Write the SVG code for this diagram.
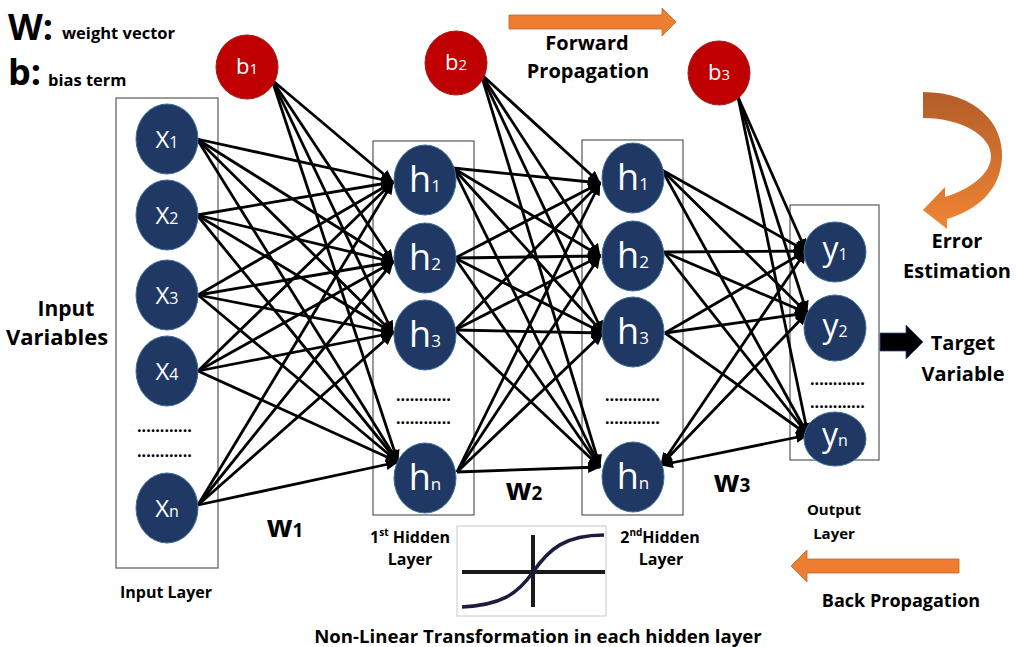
<svg xmlns="http://www.w3.org/2000/svg" width="1016" height="647" viewBox="0 0 1016 647">
<style>
.t{font-family:"Open Sans","Liberation Sans",sans-serif;font-weight:bold;fill:#000}
.nl{font-family:"Open Sans","Liberation Sans",sans-serif;fill:#fff}
.n{fill:#1f3864;stroke:#41719c;stroke-width:1}
.b{fill:#c00000;stroke:#a02020;stroke-width:1}
.box{fill:none;stroke:#595959;stroke-width:1.2}
.c line{stroke:#000;stroke-width:2.8;marker-end:url(#ah)}
.dots{font-family:"Open Sans","Liberation Sans",sans-serif;font-weight:bold;font-size:16px;fill:#000}
</style>
<defs>
<marker id="ah" markerWidth="13" markerHeight="11" refX="12" refY="5.5" orient="auto" markerUnits="userSpaceOnUse"><path d="M0,0 L13,5.5 L0,11 z" fill="#000"/></marker>
<marker id="ahs" markerWidth="13" markerHeight="11" refX="12" refY="5.5" orient="auto-start-reverse" markerUnits="userSpaceOnUse"><path d="M0,0 L13,5.5 L0,11 z" fill="#000"/></marker>
<linearGradient id="eg" x1="0" y1="0" x2="0" y2="1"><stop offset="0" stop-color="#b35d28"/><stop offset="1" stop-color="#f08535"/></linearGradient>
</defs>
<rect width="1016" height="647" fill="#fff"/>

<g id="legend">
<text class="t" x="8" y="40" font-size="36">W:</text>
<text class="t" x="62" y="39" font-size="16.5">weight vector</text>
<text class="t" x="8" y="85" font-size="36">b:</text>
<text class="t" x="48" y="86" font-size="16.5">bias term</text>
</g>

<g id="layer-boxes">
<rect class="box" x="116" y="98" width="102" height="470"/>
<rect class="box" x="373" y="141" width="101" height="374"/>
<rect class="box" x="582" y="140" width="101" height="375"/>
<rect class="box" x="790" y="205" width="89" height="255"/>
</g>

<g id="connectors" class="c">
<line x1="197" y1="139" x2="393" y2="182"/><line x1="197" y1="139" x2="393" y2="262"/><line x1="197" y1="139" x2="393" y2="333"/><line x1="197" y1="139" x2="398" y2="462"/>
<line x1="197" y1="215" x2="393" y2="182"/><line x1="197" y1="215" x2="393" y2="262"/><line x1="197" y1="215" x2="393" y2="333"/><line x1="197" y1="215" x2="398" y2="462"/>
<line x1="198" y1="295" x2="393" y2="182"/><line x1="198" y1="295" x2="393" y2="262"/><line x1="198" y1="295" x2="393" y2="333"/><line x1="198" y1="295" x2="398" y2="462"/>
<line x1="198" y1="371" x2="393" y2="182"/><line x1="198" y1="371" x2="393" y2="262"/><line x1="198" y1="371" x2="393" y2="333"/><line x1="198" y1="371" x2="398" y2="462"/>
<line x1="198" y1="505" x2="393" y2="182"/><line x1="198" y1="505" x2="393" y2="262"/><line x1="198" y1="505" x2="393" y2="333"/><line x1="198" y1="505" x2="398" y2="462"/>
<line x1="272" y1="80" x2="393" y2="182"/><line x1="272" y1="80" x2="393" y2="262"/><line x1="272" y1="80" x2="393" y2="333"/><line x1="272" y1="80" x2="398" y2="462"/>
<line x1="453" y1="168" x2="600" y2="183"/><line x1="453" y1="168" x2="600" y2="256"/><line x1="453" y1="168" x2="603" y2="333"/><line x1="453" y1="168" x2="600" y2="467"/>
<line x1="455" y1="258" x2="600" y2="183"/><line x1="455" y1="258" x2="600" y2="256"/><line x1="455" y1="258" x2="603" y2="333"/><line x1="455" y1="258" x2="600" y2="467"/>
<line x1="455" y1="330" x2="600" y2="183"/><line x1="455" y1="330" x2="600" y2="256"/><line x1="455" y1="330" x2="603" y2="333"/><line x1="455" y1="330" x2="600" y2="467"/>
<line x1="457" y1="472" x2="600" y2="183"/><line x1="457" y1="472" x2="600" y2="256"/><line x1="457" y1="472" x2="603" y2="333"/><line x1="457" y1="472" x2="600" y2="467"/>
<line x1="481" y1="74" x2="600" y2="183"/><line x1="481" y1="74" x2="600" y2="256"/><line x1="481" y1="74" x2="603" y2="333"/><line x1="481" y1="74" x2="600" y2="467"/>
<line x1="662" y1="170" x2="806" y2="251"/><line x1="662" y1="170" x2="807" y2="313"/><line x1="662" y1="170" x2="808" y2="435"/>
<line x1="664" y1="252" x2="806" y2="251"/><line x1="664" y1="252" x2="807" y2="313"/><line x1="664" y1="252" x2="808" y2="435"/>
<line x1="665" y1="333" x2="806" y2="251"/><line x1="665" y1="333" x2="807" y2="313"/><line x1="665" y1="333" x2="808" y2="435"/>
<line x1="661" y1="465" x2="806" y2="251" marker-start="url(#ahs)"/><line x1="661" y1="465" x2="807" y2="313" marker-start="url(#ahs)"/><line x1="661" y1="465" x2="808" y2="435" marker-start="url(#ahs)"/>
<line x1="738" y1="97" x2="806" y2="251"/><line x1="738" y1="97" x2="807" y2="313"/><line x1="738" y1="97" x2="808" y2="435"/>
</g>

<g id="x1"><ellipse class="n" cx="167" cy="139" rx="31" ry="35"/><text class="nl" x="167" y="148" font-size="24" text-anchor="middle">X<tspan font-size="16">1</tspan></text></g>
<g id="x2"><ellipse class="n" cx="167" cy="215" rx="31" ry="35"/><text class="nl" x="167" y="224" font-size="24" text-anchor="middle">X<tspan font-size="16">2</tspan></text></g>
<g id="x3"><ellipse class="n" cx="167" cy="295" rx="31" ry="35"/><text class="nl" x="167" y="304" font-size="24" text-anchor="middle">X<tspan font-size="16">3</tspan></text></g>
<g id="x4"><ellipse class="n" cx="167" cy="371" rx="31" ry="35"/><text class="nl" x="167" y="380" font-size="24" text-anchor="middle">X<tspan font-size="16">4</tspan></text></g>
<g id="xn"><ellipse class="n" cx="167" cy="508" rx="31" ry="35"/><text class="nl" x="167" y="517" font-size="24" text-anchor="middle">X<tspan font-size="16">n</tspan></text></g>
<g id="input-dots"><text class="dots" x="137" y="432">............</text><text class="dots" x="137" y="457">............</text></g>

<g id="h1-1"><ellipse class="n" cx="425" cy="180" rx="31" ry="35"/><text class="nl" x="425" y="192" font-size="36" text-anchor="middle">h<tspan font-size="17">1</tspan></text></g>
<g id="h1-2"><ellipse class="n" cx="425" cy="258" rx="31" ry="35"/><text class="nl" x="425" y="270" font-size="36" text-anchor="middle">h<tspan font-size="17">2</tspan></text></g>
<g id="h1-3"><ellipse class="n" cx="425" cy="335" rx="31" ry="35"/><text class="nl" x="425" y="347" font-size="36" text-anchor="middle">h<tspan font-size="17">3</tspan></text></g>
<g id="h1-n"><ellipse class="n" cx="425" cy="478" rx="31" ry="35"/><text class="nl" x="425" y="490" font-size="36" text-anchor="middle">h<tspan font-size="17">n</tspan></text></g>
<g id="h1-dots"><text class="dots" x="396" y="401">............</text><text class="dots" x="396" y="424">............</text></g>

<g id="h2-1"><ellipse class="n" cx="633" cy="178" rx="31" ry="35"/><text class="nl" x="633" y="190" font-size="36" text-anchor="middle">h<tspan font-size="17">1</tspan></text></g>
<g id="h2-2"><ellipse class="n" cx="633" cy="256" rx="31" ry="35"/><text class="nl" x="633" y="268" font-size="36" text-anchor="middle">h<tspan font-size="17">2</tspan></text></g>
<g id="h2-3"><ellipse class="n" cx="633" cy="332" rx="31" ry="35"/><text class="nl" x="633" y="344" font-size="36" text-anchor="middle">h<tspan font-size="17">3</tspan></text></g>
<g id="h2-n"><ellipse class="n" cx="633" cy="477" rx="31" ry="35"/><text class="nl" x="633" y="489" font-size="36" text-anchor="middle">h<tspan font-size="17">n</tspan></text></g>
<g id="h2-dots"><text class="dots" x="605" y="401">............</text><text class="dots" x="605" y="424">............</text></g>

<g id="y1"><ellipse class="n" cx="835" cy="252" rx="31" ry="30"/><text class="nl" x="835" y="260" font-size="32" text-anchor="middle">y<tspan font-size="16">1</tspan></text></g>
<g id="y2"><ellipse class="n" cx="835" cy="328" rx="31" ry="33"/><text class="nl" x="835" y="337" font-size="32" text-anchor="middle">y<tspan font-size="16">2</tspan></text></g>
<g id="yn"><ellipse class="n" cx="835" cy="439" rx="31" ry="27"/><text class="nl" x="835" y="446" font-size="32" text-anchor="middle">y<tspan font-size="16">n</tspan></text></g>
<g id="out-dots"><text class="dots" x="810" y="385">............</text><text class="dots" x="810" y="408">............</text></g>

<g id="b1"><ellipse class="b" cx="247" cy="67" rx="31" ry="32"/><text class="nl" x="247" y="74" font-size="22" text-anchor="middle">b<tspan font-size="15">1</tspan></text></g>
<g id="b2"><ellipse class="b" cx="456" cy="63" rx="31" ry="32"/><text class="nl" x="456" y="70" font-size="22" text-anchor="middle">b<tspan font-size="15">2</tspan></text></g>
<g id="b3"><ellipse class="b" cx="719" cy="73" rx="31" ry="32"/><text class="nl" x="719" y="80" font-size="22" text-anchor="middle">b<tspan font-size="15">3</tspan></text></g>

<g id="weights">
<text class="t" x="285" y="537" font-size="30" text-anchor="middle">w<tspan font-size="19">1</tspan></text>
<text class="t" x="524" y="500" font-size="30" text-anchor="middle">w<tspan font-size="19">2</tspan></text>
<text class="t" x="732" y="492" font-size="30" text-anchor="middle">w<tspan font-size="19">3</tspan></text>
</g>

<g id="labels">
<text class="t" x="66" y="316" font-size="21" text-anchor="middle">Input</text>
<text class="t" x="57" y="345" font-size="22" text-anchor="middle">Variables</text>
<text class="t" x="166" y="598" font-size="16" text-anchor="middle">Input Layer</text>
<text class="t" x="410" y="543" font-size="16" text-anchor="middle">1<tspan font-size="10" dy="-7">st</tspan><tspan dy="7"> Hidden</tspan></text>
<text class="t" x="410" y="565" font-size="16" text-anchor="middle">Layer</text>
<text class="t" x="660" y="543" font-size="16" text-anchor="middle">2<tspan font-size="10" dy="-7">nd</tspan><tspan dy="7">Hidden</tspan></text>
<text class="t" x="661" y="565" font-size="16" text-anchor="middle">Layer</text>
<text class="t" x="834" y="515" font-size="15" text-anchor="middle">Output</text>
<text class="t" x="834" y="539" font-size="15" text-anchor="middle">Layer</text>
<text class="t" x="538" y="643" font-size="18.6" text-anchor="middle">Non-Linear Transformation in each hidden layer</text>
</g>

<g id="sigmoid">
<rect x="457" y="526" width="149" height="90" fill="#fff" stroke="#c8c8c8" stroke-width="1"/>
<line x1="462" y1="572" x2="605" y2="572" stroke="#1a1a1a" stroke-width="4"/>
<line x1="533" y1="535" x2="533" y2="607" stroke="#1a1a1a" stroke-width="4"/>
<path d="M462 607 C500 605 517 595 533 572 C549 549 565 535 604 535" fill="none" stroke="#1c1c3c" stroke-width="3.5"/>
</g>

<g id="forward">
<path d="M509 15 L662 15 L662 8 L676 22 L662 36 L662 29 L509 29 Z" fill="#ed7d31" stroke="#c0662a" stroke-width="0.8"/>
<text class="t" x="587" y="50" font-size="20" text-anchor="middle">Forward</text>
<text class="t" x="588" y="78" font-size="20" text-anchor="middle">Propagation</text>
</g>

<g id="error">
<path d="M923 92 C977 92 1004 125 1002 158 C1000 192 976 210 947 219 L947 229 L923 210 L945 187 L945 197 C968 190 991 175 991 156 C991 136 962 118 923 118 Z" fill="url(#eg)"/>
<text class="t" x="957" y="248" font-size="20" text-anchor="middle">Error</text>
<text class="t" x="957" y="278" font-size="20" text-anchor="middle">Estimation</text>
</g>

<g id="target">
<path d="M880 333 L906 333 L906 325 L923 342 L906 359 L906 351 L880 351 Z" fill="#000" stroke="#2f528f" stroke-width="0.8"/>
<text class="t" x="963" y="350" font-size="20" text-anchor="middle">Target</text>
<text class="t" x="963" y="381" font-size="20" text-anchor="middle">Variable</text>
</g>

<g id="back">
<path d="M959 559 L807 559 L807 550 L791 566 L807 582 L807 573 L959 573 Z" fill="#ed7d31" stroke="#c0662a" stroke-width="0.8"/>
<text class="t" x="901" y="607" font-size="18" text-anchor="middle">Back Propagation</text>
</g>
</svg>
